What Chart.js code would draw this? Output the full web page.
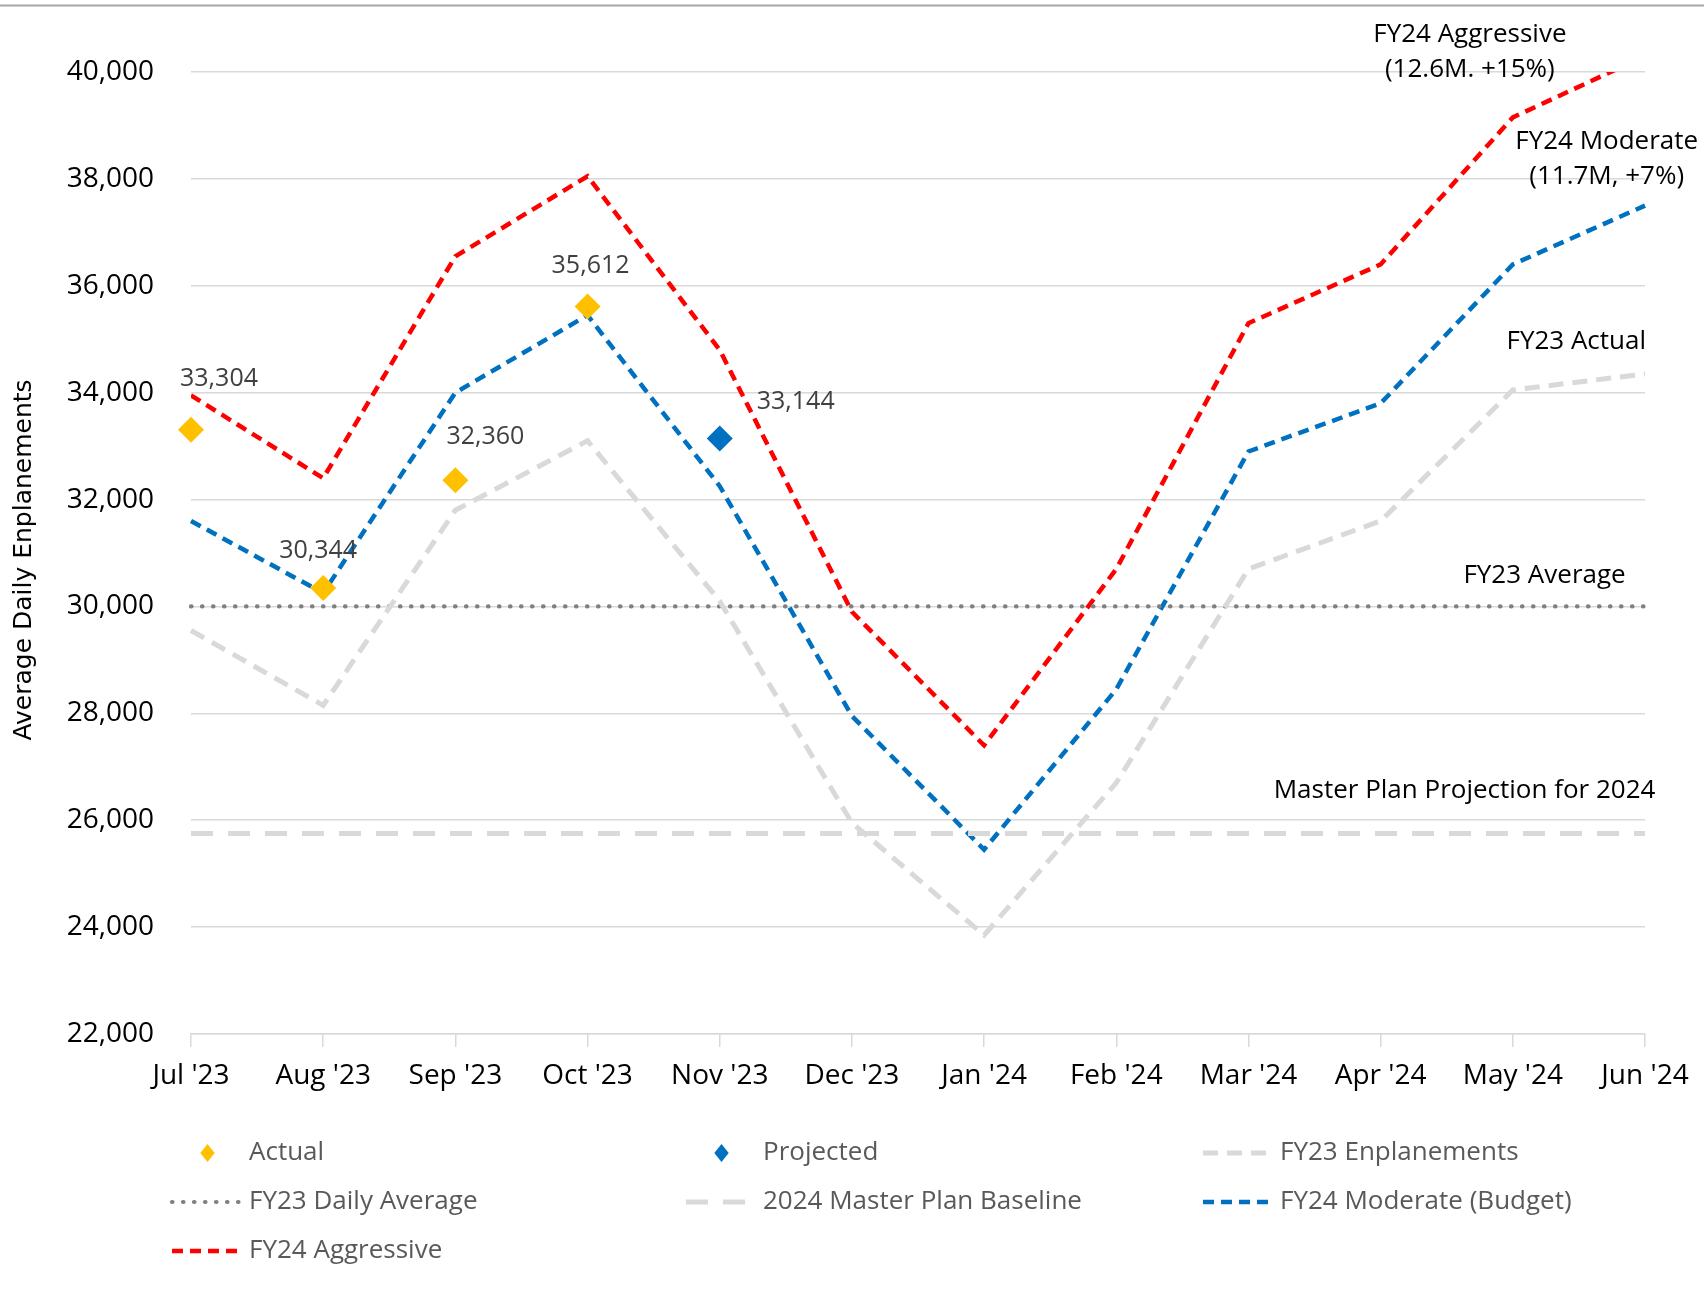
<!DOCTYPE html>
<html>
<head>
<meta charset="utf-8">
<title>Average Daily Enplanements</title>
<script src="https://cdn.jsdelivr.net/npm/chart.js@4.4.1/dist/chart.umd.min.js"></script>
<style>
  body { margin: 0; background: #fff; }
</style>
</head>
<body>
<canvas id="chart" width="1704" height="1305"></canvas>
<script>
// month categories on the x axis
const months = ["Jul '23", "Aug '23", "Sep '23", "Oct '23", "Nov '23", "Dec '23",
                "Jan '24", "Feb '24", "Mar '24", "Apr '24", "May '24", "Jun '24"];

// series values (average daily enplanements)
const actual     = [33304, 30344, 32360, 35612, null, null, null, null, null, null, null, null];
const projected  = [null, null, null, null, 33144, null, null, null, null, null, null, null];
const fy23Enpl   = [29550, 28150, 31800, 33100, 30100, 25950, 23850, 26700, 30700, 31600, 34050, 34350];
const fy23Avg    = [30000, 30000, 30000, 30000, 30000, 30000, 30000, 30000, 30000, 30000, 30000, 30000];
const masterPlan = [25750, 25750, 25750, 25750, 25750, 25750, 25750, 25750, 25750, 25750, 25750, 25750];
const moderate   = [31600, 30250, 34000, 35450, 32250, 27950, 25450, 28450, 32900, 33800, 36400, 37500];
const aggressive = [33950, 32400, 36550, 38050, 34800, 29900, 27400, 30700, 35300, 36400, 39150, 40300];

// y axis range
const yMin = 22000;
const yMax = 40000;
const yStep = 2000;

const yTitle = 'Average Daily Enplanements';

// text notes placed on the plot (x in category units, y in axis value)
const notes = [
    { lines: ['FY24 Aggressive', '(12.6M. +15%)'], x: 9.675, y: 40374 },
    { lines: ['FY24 Moderate', '(11.7M, +7%)'], x: 10.71, y: 38370 },
    { lines: ['FY23 Actual'], x: 10.48, y: 34950 },
    { lines: ['FY23 Average'], x: 10.24, y: 30580 },
    { lines: ['Master Plan Projection for 2024'], x: 9.635, y: 26557 }
];

const textFont = '"Open Sans", "Liberation Sans", sans-serif';

// offsets of the value labels from their markers, in pixels
const labelOffsets = {
    0: [[28, -51], [-5, -37], [30, -43], [3, -41]],
    1: { 4: [76, -37] }
};

// top rule of the page + rotated axis title
const frame = {
    id: 'frame',
    beforeDraw(chart) {
        const ctx = chart.ctx;
        ctx.save();
        ctx.fillStyle = '#ffffff';
        ctx.fillRect(0, 0, chart.width, chart.height);
        ctx.strokeStyle = '#A6A6A6';
        ctx.lineWidth = 2;
        ctx.beginPath();
        ctx.moveTo(0, 5.5);
        ctx.lineTo(chart.width, 5.5);
        ctx.stroke();
        ctx.restore();
    },
    afterDraw(chart) {
        const ctx = chart.ctx;
        ctx.save();
        ctx.translate(24, 560);
        ctx.rotate(-Math.PI / 2);
        ctx.font = '25px "DejaVu Sans", Verdana, sans-serif';
        ctx.fillStyle = '#000000';
        ctx.textAlign = 'center';
        ctx.textBaseline = 'middle';
        ctx.fillText(yTitle, 0, 0);
        ctx.restore();
    }
};

// value labels next to the diamond markers
const valueLabels = {
    id: 'valueLabels',
    afterDatasetsDraw(chart) {
        const ctx = chart.ctx;
        ctx.save();
        ctx.font = '25px ' + textFont;
        ctx.fillStyle = '#404040';
        ctx.textAlign = 'center';
        ctx.textBaseline = 'middle';
        [0, 1].forEach(di => {
            const ds = chart.data.datasets[di];
            const meta = chart.getDatasetMeta(di);
            ds.data.forEach((v, i) => {
                if (v === null) return;
                const pt = meta.data[i];
                const off = labelOffsets[di][i] || [0, -40];
                ctx.fillText(v.toLocaleString('en-US'), pt.x + off[0], pt.y + off[1]);
            });
        });
        ctx.restore();
    }
};

// series notes on the right side of the plot
const plotNotes = {
    id: 'plotNotes',
    afterDatasetsDraw(chart) {
        const ctx = chart.ctx;
        const xs = chart.scales.x;
        const ys = chart.scales.y;
        const lh = 35;
        ctx.save();
        ctx.font = '26px ' + textFont;
        ctx.fillStyle = '#000000';
        ctx.textAlign = 'center';
        ctx.textBaseline = 'middle';
        notes.forEach(n => {
            const cx = xs.getPixelForValue(n.x);
            const cy = ys.getPixelForValue(n.y);
            const top = cy - (n.lines.length - 1) * lh / 2;
            n.lines.forEach((t, k) => ctx.fillText(t, cx, top + k * lh));
        });
        ctx.restore();
    }
};

// three column legend under the x axis
const legendOrder = [0, 1, 2, 3, 4, 5, 6];
const gridLegend = {
    id: 'gridLegend',
    afterDraw(chart) {
        const ctx = chart.ctx;
        const colX = [172, 686, 1203];
        const rowY = [1153, 1202, 1251];
        const sampleW = 71;
        ctx.save();
        ctx.font = '26px ' + textFont;
        ctx.textBaseline = 'middle';
        ctx.textAlign = 'left';
        legendOrder.forEach((di, k) => {
            const ds = chart.data.datasets[di];
            const x = colX[k % 3];
            const y = rowY[Math.floor(k / 3)];
            if (ds.showLine === false) {
                const cx = x + sampleW / 2;
                const r = 9;
                ctx.fillStyle = ds.backgroundColor;
                ctx.beginPath();
                ctx.moveTo(cx, y - r);
                ctx.lineTo(cx + r * 0.8, y);
                ctx.lineTo(cx, y + r);
                ctx.lineTo(cx - r * 0.8, y);
                ctx.closePath();
                ctx.fill();
            } else {
                ctx.strokeStyle = ds.borderColor;
                ctx.lineWidth = ds.borderWidth;
                ctx.lineCap = ds.borderCapStyle || 'butt';
                ctx.setLineDash(ds.borderDash || []);
                ctx.beginPath();
                ctx.moveTo(x, y);
                ctx.lineTo(x + sampleW, y);
                ctx.stroke();
                ctx.setLineDash([]);
            }
            ctx.fillStyle = '#595959';
            ctx.fillText(ds.label, x + sampleW + 6, y);
        });
        ctx.restore();
    }
};

const lineBase = { pointRadius: 0, fill: false, tension: 0, spanGaps: true };

new Chart(document.getElementById('chart'), {
    type: 'line',
    data: {
        labels: months,
        datasets: [
            {
                label: 'Actual', data: actual, showLine: false,
                pointStyle: 'rectRot', pointRadius: 13,
                backgroundColor: '#FFC000', borderColor: '#FFC000', borderWidth: 0, clip: false
            },
            {
                label: 'Projected', data: projected, showLine: false,
                pointStyle: 'rectRot', pointRadius: 13,
                backgroundColor: '#0070C0', borderColor: '#0070C0', borderWidth: 0, clip: false
            },
            Object.assign({
                label: 'FY23 Enplanements', data: fy23Enpl,
                borderColor: '#D9D9D9', borderWidth: 5, borderDash: [15, 9]
            }, lineBase),
            Object.assign({
                label: 'FY23 Daily Average', data: fy23Avg,
                borderColor: '#808080', borderWidth: 4.2, borderDash: [0.5, 10.5], borderCapStyle: 'round'
            }, lineBase),
            Object.assign({
                label: '2024 Master Plan Baseline', data: masterPlan,
                borderColor: '#D9D9D9', borderWidth: 5, borderDash: [22, 15]
            }, lineBase),
            Object.assign({
                label: 'FY24 Moderate (Budget)', data: moderate,
                borderColor: '#0070C0', borderWidth: 4.5, borderDash: [11, 7]
            }, lineBase),
            Object.assign({
                label: 'FY24 Aggressive', data: aggressive,
                borderColor: '#FF0000', borderWidth: 4.5, borderDash: [11, 7], clip: 0
            }, lineBase)
        ]
    },
    options: {
        responsive: false,
        animation: false,
        events: [],
        layout: { padding: { left: 0, top: 72, right: 59, bottom: 211 } },
        plugins: {
            legend: { display: false },
            tooltip: { enabled: false }
        },
        scales: {
            x: {
                offset: false,
                grid: {
                    drawOnChartArea: false, drawTicks: true, tickLength: 13,
                    color: '#D9D9D9', lineWidth: 1.5
                },
                border: { display: true, color: '#D9D9D9', width: 1.5 },
                ticks: {
                    color: '#000000', padding: 12, maxRotation: 0, autoSkip: false,
                    font: { family: textFont, size: 28 }
                },
                afterFit(scale) { scale.height = 60; }
            },
            y: {
                min: yMin,
                max: yMax,
                grid: { color: '#D9D9D9', lineWidth: 1.5, drawTicks: false },
                border: { display: false },
                ticks: {
                    stepSize: yStep, padding: 37, color: '#000000',
                    font: { family: textFont, size: 28 },
                    callback: v => v.toLocaleString('en-US')
                },
                afterFit(scale) { scale.width = 191; }
            }
        }
    },
    plugins: [frame, valueLabels, plotNotes, gridLegend]
});
</script>
</body>
</html>
